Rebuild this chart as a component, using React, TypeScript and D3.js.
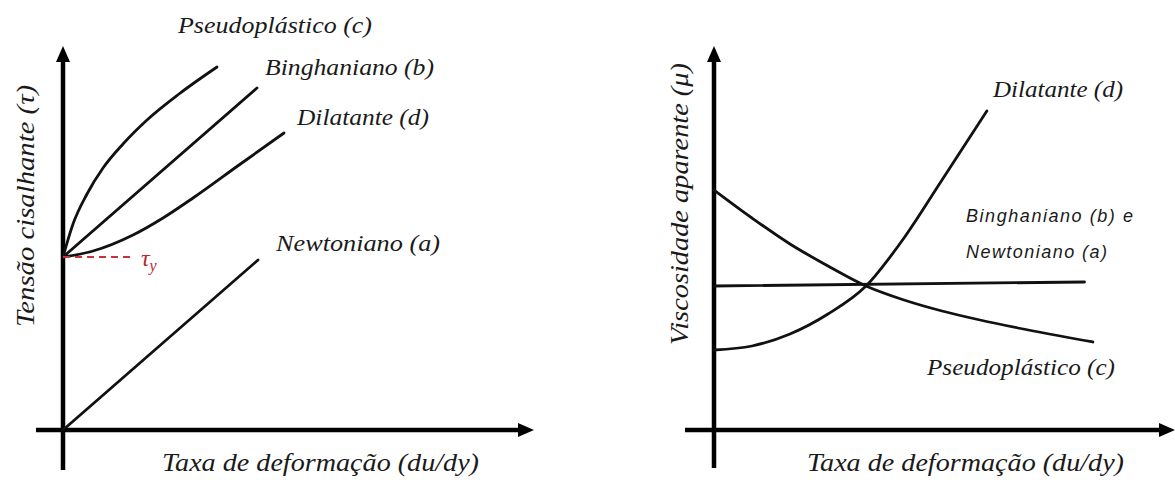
import React from "react";
import * as d3 from "d3";

type Pt = [number, number];

// Left panel: shear stress (τ) vs. shear rate (du/dy)
const shearNewtonian: Pt[] = [[0, 0], [9.75, 8.5]];
const yieldStress = 8.65;
const shearBingham: Pt[] = [[0, 8.65], [9.7, 17.1]];
const shearPseudo: Pt[] = [[0, 8.65], [0.5, 10.3], [1.2, 11.8], [2.0, 13.1], [3.0, 14.3], [4.2, 15.5], [5.8, 16.8], [7.7, 18.15]];
const shearDilatant: Pt[] = [[0, 8.65], [1.5, 8.95], [3.5, 9.75], [5.0, 10.6], [6.5, 11.6], [8.8, 13.25], [11.05, 14.85]];

// Right panel: apparent viscosity (μ) vs. shear rate (du/dy)
const viscNewtonBingham: Pt[] = [[0, 7.2], [9.75, 7.4]];
const viscPseudo: Pt[] = [[0, 12], [1, 10.6], [2, 9.3], [3, 8.2], [4, 7.2], [5, 6.5], [6, 5.95], [7, 5.5], [8, 5.1], [9.97, 4.4]];
const viscDilatant: Pt[] = [[0, 4.0], [1, 4.2], [2, 4.8], [3, 5.8], [4, 7.2], [5, 9.6], [6, 12.5], [7.18, 15.95]];

// Text
const curveNames = {
  a: "Newtoniano (a)",
  b: "Binghaniano (b)",
  c: "Pseudoplástico (c)",
  d: "Dilatante (d)",
};
const xTitle = "Taxa de deformação (du/dy)";
const yTitleLeft = "Tensão cisalhante (τ)";
const yTitleRight = "Viscosidade aparente (μ)";

const SERIF = "Liberation Serif";
const SANS = "Liberation Sans";

const W = 1175;
const H = 480;

function arrowUp(x: number, tip: number) {
  return `M${x},${tip} L${x - 7},${tip + 16} L${x + 7},${tip + 16} Z`;
}
function arrowRight(tip: number, y: number) {
  return `M${tip},${y} L${tip - 16},${y - 7} L${tip - 16},${y + 7} Z`;
}

export default function App() {
  // Left panel scales
  const xL = d3.scaleLinear().domain([0, 10]).range([63, 263]);
  const yL = d3.scaleLinear().domain([0, 20]).range([430, 30]);
  // Right panel scales
  const xR = d3.scaleLinear().domain([0, 10]).range([714, 1094]);
  const yR = d3.scaleLinear().domain([0, 20]).range([430, 30]);

  const lineL = d3
    .line<Pt>()
    .x((d) => xL(d[0]))
    .y((d) => yL(d[1]))
    .curve(d3.curveMonotoneX);
  const lineR = d3
    .line<Pt>()
    .x((d) => xR(d[0]))
    .y((d) => yR(d[1]))
    .curve(d3.curveMonotoneX);

  const curveStyle = { fill: "none", stroke: "#111", strokeWidth: 2.8, strokeLinecap: "round" as const };
  const axisStroke = { stroke: "#000", strokeWidth: 4.5 };
  const serifStyle = { fontFamily: SERIF, fontStyle: "italic" as const };
  const sansStyle = { fontFamily: SANS, fontStyle: "italic" as const };

  const oxL = xL(0);
  const oyL = yL(0);
  const oxR = xR(0);
  const oyR = yR(0);

  return (
    <svg
      width={W}
      height={H}
      viewBox={`0 0 ${W} ${H}`}
      style={{ position: "absolute", left: 0, top: 0, background: "#fff" }}
    >
      <rect width={W} height={H} fill="#fff" />

      {/* ---------- Left panel ---------- */}
      <g>
        <line x1={oxL} y1={470} x2={oxL} y2={58} {...axisStroke} />
        <path d={arrowUp(oxL, 46)} fill="#000" />
        <line x1={36} y1={oyL} x2={522} y2={oyL} {...axisStroke} />
        <path d={arrowRight(534, oyL)} fill="#000" />

        <path d={lineL(shearNewtonian) ?? ""} {...curveStyle} />
        <path d={lineL(shearBingham) ?? ""} {...curveStyle} />
        <path d={lineL(shearPseudo) ?? ""} {...curveStyle} />
        <path d={lineL(shearDilatant) ?? ""} {...curveStyle} />

        {/* yield stress marker */}
        <line
          x1={oxL}
          y1={yL(yieldStress)}
          x2={134}
          y2={yL(yieldStress)}
          stroke="#c8323c"
          strokeWidth={2}
          strokeDasharray="7,5"
        />
        <text x={141} y={266} style={serifStyle} fontSize={24} fill="#b8282f">
          τ
          <tspan dy={5} fontSize={16}>
            y
          </tspan>
        </text>

        <g fill="#1a1a1a" fontSize={24}>
          <text x={178} y={33} style={serifStyle} textLength={194} lengthAdjust="spacingAndGlyphs">
            {curveNames.c}
          </text>
          <text x={265} y={75} style={serifStyle} textLength={169} lengthAdjust="spacingAndGlyphs">
            {curveNames.b}
          </text>
          <text x={297} y={125} style={serifStyle} textLength={132} lengthAdjust="spacingAndGlyphs">
            {curveNames.d}
          </text>
          <text x={276} y={251} style={serifStyle} textLength={164} lengthAdjust="spacingAndGlyphs">
            {curveNames.a}
          </text>
        </g>

        <g fill="#1a1a1a" fontSize={26}>
          <text x={162} y={471} style={serifStyle} textLength={317} lengthAdjust="spacingAndGlyphs">
            {xTitle}
          </text>
          <text
            transform="translate(34,206) rotate(-90)"
            textAnchor="middle"
            style={serifStyle}
            textLength={242}
            lengthAdjust="spacingAndGlyphs"
          >
            {yTitleLeft}
          </text>
        </g>
      </g>

      {/* ---------- Right panel ---------- */}
      <g>
        <line x1={oxR} y1={468} x2={oxR} y2={58} {...axisStroke} />
        <path d={arrowUp(oxR, 46)} fill="#000" />
        <line x1={685} y1={oyR} x2={1163} y2={oyR} {...axisStroke} />
        <path d={arrowRight(1175, oyR)} fill="#000" />

        <path d={lineR(viscNewtonBingham) ?? ""} {...curveStyle} />
        <path d={lineR(viscPseudo) ?? ""} {...curveStyle} />
        <path d={lineR(viscDilatant) ?? ""} {...curveStyle} />

        <g fill="#1a1a1a" fontSize={24}>
          <text x={993} y={97} style={serifStyle} textLength={130} lengthAdjust="spacingAndGlyphs">
            {curveNames.d}
          </text>
          <text x={927} y={375} style={serifStyle} textLength={188} lengthAdjust="spacingAndGlyphs">
            {curveNames.c}
          </text>
        </g>
        <g fill="#1a1a1a" fontSize={18}>
          <text x={966} y={222} style={sansStyle} textLength={167} lengthAdjust="spacing">
            {`${curveNames.b} e`}
          </text>
          <text x={966} y={258} style={sansStyle} textLength={141} lengthAdjust="spacing">
            {curveNames.a}
          </text>
        </g>

        <g fill="#1a1a1a" fontSize={26}>
          <text x={807} y={471} style={serifStyle} textLength={317} lengthAdjust="spacingAndGlyphs">
            {xTitle}
          </text>
          <text
            transform="translate(688,204) rotate(-90)"
            textAnchor="middle"
            style={serifStyle}
            textLength={282}
            lengthAdjust="spacingAndGlyphs"
          >
            {yTitleRight}
          </text>
        </g>
      </g>
    </svg>
  );
}
